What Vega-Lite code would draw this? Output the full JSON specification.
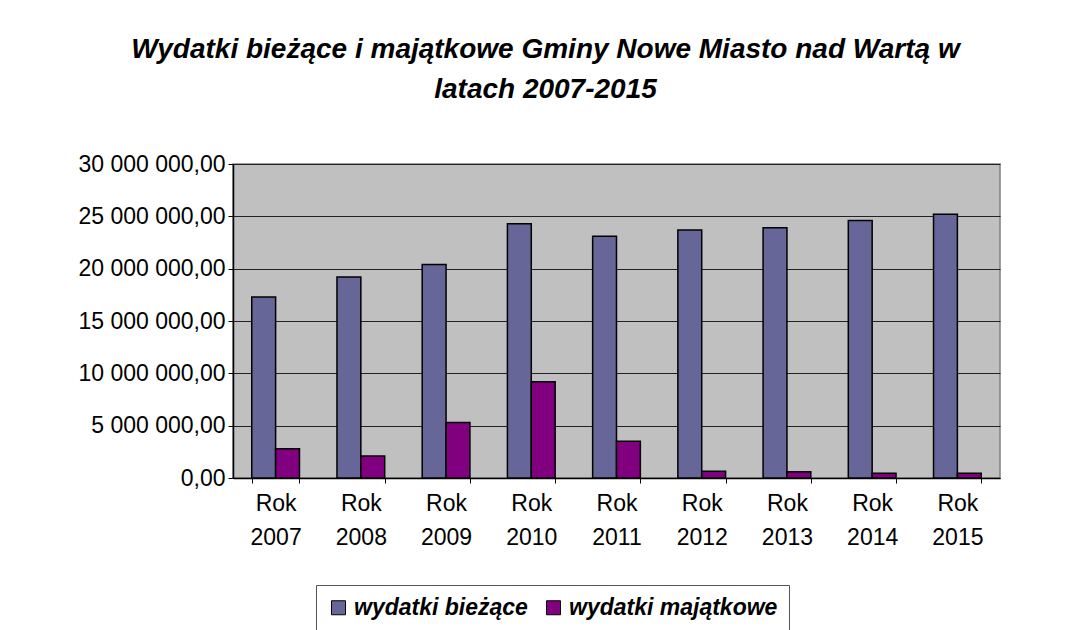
{
  "$schema": "https://vega.github.io/schema/vega-lite/v6.json",
  "autosize": {"type": "none"},
  "padding": {"left": 233, "top": 164, "right": 74, "bottom": 152},
  "width": 767,
  "height": 314,
  "background": "white",
  "title": {
    "text": ["Wydatki bieżące i majątkowe Gminy Nowe Miasto nad Wartą w", "latach 2007-2015"],
    "font": "Liberation Sans",
    "fontSize": 28,
    "fontStyle": "italic",
    "fontWeight": "bold",
    "lineHeight": 40,
    "anchor": "middle",
    "dx": -71,
    "offset": 49,
    "color": "black"
  },
  "data": {
    "values": [
      {"rok": "Rok 2007", "seria": "wydatki bieżące", "kwota": 17300000},
      {"rok": "Rok 2008", "seria": "wydatki bieżące", "kwota": 19200000},
      {"rok": "Rok 2009", "seria": "wydatki bieżące", "kwota": 20400000},
      {"rok": "Rok 2010", "seria": "wydatki bieżące", "kwota": 24300000},
      {"rok": "Rok 2011", "seria": "wydatki bieżące", "kwota": 23100000},
      {"rok": "Rok 2012", "seria": "wydatki bieżące", "kwota": 23700000},
      {"rok": "Rok 2013", "seria": "wydatki bieżące", "kwota": 23900000},
      {"rok": "Rok 2014", "seria": "wydatki bieżące", "kwota": 24600000},
      {"rok": "Rok 2015", "seria": "wydatki bieżące", "kwota": 25200000},
      {"rok": "Rok 2007", "seria": "wydatki majątkowe", "kwota": 2800000},
      {"rok": "Rok 2008", "seria": "wydatki majątkowe", "kwota": 2100000},
      {"rok": "Rok 2009", "seria": "wydatki majątkowe", "kwota": 5300000},
      {"rok": "Rok 2010", "seria": "wydatki majątkowe", "kwota": 9200000},
      {"rok": "Rok 2011", "seria": "wydatki majątkowe", "kwota": 3500000},
      {"rok": "Rok 2012", "seria": "wydatki majątkowe", "kwota": 650000},
      {"rok": "Rok 2013", "seria": "wydatki majątkowe", "kwota": 600000},
      {"rok": "Rok 2014", "seria": "wydatki majątkowe", "kwota": 450000},
      {"rok": "Rok 2015", "seria": "wydatki majątkowe", "kwota": 450000}
    ]
  },
  "mark": {"type": "bar", "stroke": "black", "strokeWidth": 1.5},
  "encoding": {
    "x": {
      "field": "rok",
      "type": "nominal",
      "title": null,
      "scale": {"paddingInner": 0.44, "paddingOuter": 0.22},
      "axis": {
        "labelAngle": 0,
        "labelExpr": "split(datum.label, ' ')",
        "labelLineHeight": 34,
        "labelBaseline": "top",
        "labelFont": "Liberation Sans",
        "labelFontSize": 23,
        "labelColor": "black",
        "labelPadding": 9,
        "tickBand": "extent",
        "tickSize": 5,
        "tickColor": "black",
        "domainColor": "black",
        "domainWidth": 1.5,
        "grid": false
      }
    },
    "xOffset": {"field": "seria", "type": "nominal", "sort": ["wydatki bieżące", "wydatki majątkowe"]},
    "y": {
      "field": "kwota",
      "type": "quantitative",
      "title": null,
      "scale": {"domain": [0, 30000000], "nice": false},
      "axis": {
        "values": [0, 5000000, 10000000, 15000000, 20000000, 25000000, 30000000],
        "labelExpr": "replace(replace(format(datum.value, ',.2f'), regexp(',', 'g'), ' '), '.', ',')",
        "labelFont": "Liberation Sans",
        "labelFontSize": 23,
        "labelColor": "black",
        "labelPadding": 3,
        "tickSize": 5,
        "tickColor": "black",
        "domainColor": "black",
        "domainWidth": 1.5,
        "gridColor": "#222222",
        "gridWidth": 1.2
      }
    },
    "color": {
      "field": "seria",
      "type": "nominal",
      "title": null,
      "scale": {"domain": ["wydatki bieżące", "wydatki majątkowe"], "range": ["#666699", "#800080"]},
      "legend": {
        "orient": "none",
        "legendX": 83,
        "legendY": 421,
        "direction": "horizontal",
        "strokeColor": "#555555",
        "fillColor": "white",
        "padding": 11,
        "symbolType": "square",
        "symbolSize": 196,
        "symbolStrokeColor": "black",
        "symbolStrokeWidth": 1,
        "symbolOpacity": 1,
        "labelFont": "Liberation Sans",
        "labelFontSize": 23,
        "labelFontStyle": "italic",
        "labelFontWeight": "bold",
        "labelColor": "black",
        "labelOffset": 4,
        "columnPadding": 14,
        "labelLimit": 400
      }
    }
  },
  "config": {
    "view": {"fill": "#C0C0C0", "stroke": "#808080", "strokeWidth": 1.5}
  }
}
